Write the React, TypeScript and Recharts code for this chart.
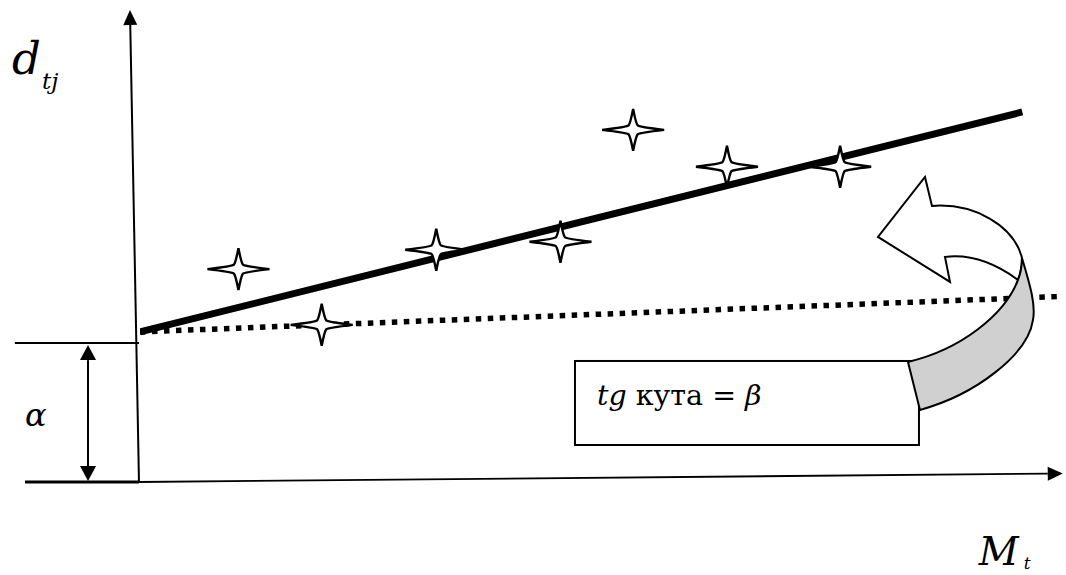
import React from 'react';
import {
  ComposedChart,
  XAxis,
  YAxis,
  Line,
  Scatter,
  ReferenceLine,
  ReferenceArea,
  ReferenceDot,
} from 'recharts';

const CHART_W = 1066;
const CHART_H = 575;
const FONT = "'DejaVu Serif', serif";

// Observed points (M_t, d_tj)
const obsM = [10.7, 19.75, 32.2, 45.7, 53.6, 63.8, 76.1];
const obsD = [45.1, 33.3, 49.2, 50.9, 74.6, 66.8, 66.8];

// Fitted regression line (two ends)
const fitM = [0, 95.9];
const fitD = [31.8, 78.4];

// Line from the intercept α with slope β (dotted)
const betaM = [0, 100];
const betaD = [31.8, 39.3];

// Intercept level α and the axis ends
const alphaLevel = 29.45;
const yAxisEnds = [
  { x: -0.11, y: 0 },
  { x: -1.09, y: 100 },
];
const xAxisEnds = [
  { x: -0.11, y: 0 },
  { x: 100.3, y: 1.8 },
];

const observations = obsM.map((x, i) => ({ x, y: obsD[i] }));
const fitData = fitM.map((x, i) => ({ x, y: fitD[i] }));
const betaData = betaM.map((x, i) => ({ x, y: betaD[i] }));

const textStyle = (size: number, italic: boolean) => ({
  fontFamily: FONT,
  fontSize: size,
  fontStyle: italic ? 'italic' : 'normal',
});

function headPoints(x1: number, y1: number, x2: number, y2: number, len: number, half: number) {
  const dx = x2 - x1;
  const dy = y2 - y1;
  const l = Math.hypot(dx, dy) || 1;
  const ux = dx / l;
  const uy = dy / l;
  const bx = x2 - ux * len;
  const by = y2 - uy * len;
  return {
    pts: `${x2},${y2} ${bx - uy * half},${by + ux * half} ${bx + uy * half},${by - ux * half}`,
    bx,
    by,
  };
}

// Four-pointed star marker with thin, slightly concave arms
const StarMark = (p: any) => {
  const { cx, cy } = p;
  if (cx == null || cy == null) return <g />;
  const a = 31;
  const b = 21;
  const c = 4.5;
  const k = 1.6;
  const d = [
    `M${cx + a},${cy}`,
    `Q${cx + c + k},${cy - c + k} ${cx + c},${cy - c}`,
    `Q${cx + c - k},${cy - c - k} ${cx},${cy - b}`,
    `Q${cx - c + k},${cy - c - k} ${cx - c},${cy - c}`,
    `Q${cx - c - k},${cy - c + k} ${cx - a},${cy}`,
    `Q${cx - c - k},${cy + c - k} ${cx - c},${cy + c}`,
    `Q${cx - c + k},${cy + c + k} ${cx},${cy + b}`,
    `Q${cx + c - k},${cy + c + k} ${cx + c},${cy + c}`,
    `Q${cx + c + k},${cy + c - k} ${cx + a},${cy}`,
    'Z',
  ].join(' ');
  return <path d={d} fill="#ffffff" stroke="#000000" strokeWidth={2.4} strokeLinejoin="miter" />;
};

const YAxisShape = (p: any) => {
  const { x1, y1, x2, y2 } = p;
  const h = headPoints(x1, y1, x2, y2, 15, 7);
  return (
    <g>
      <line x1={x1} y1={y1} x2={h.bx} y2={h.by} stroke="#000" strokeWidth={2} />
      <polygon points={h.pts} fill="#000" />
      <text x={x2 - 118} y={y2 + 64} style={textStyle(45, true)} fill="#000">
        d
      </text>
      <text x={x2 - 88} y={y2 + 79} style={textStyle(23, true)} fill="#000">
        tj
      </text>
    </g>
  );
};

const XAxisShape = (p: any) => {
  const { x1, y1, x2, y2 } = p;
  const h = headPoints(x1, y1, x2, y2, 15, 7);
  return (
    <g>
      <line x1={x1} y1={y1} x2={h.bx} y2={h.by} stroke="#000" strokeWidth={1.8} />
      <polygon points={h.pts} fill="#000" />
      <text x={x2 - 84} y={y2 + 91} style={textStyle(39, true)} fill="#000">
        M
      </text>
      <text x={x2 - 39} y={y2 + 95} style={textStyle(17, true)} fill="#000">
        t
      </text>
    </g>
  );
};

const PlainSegment = (w: number) => (p: any) => {
  const { x1, y1, x2, y2 } = p;
  return <line x1={x1} y1={y1} x2={x2} y2={y2} stroke="#000" strokeWidth={w} />;
};

const AlphaSpan = (p: any) => {
  const { x1, y1, x2, y2 } = p;
  const top = headPoints(x1, y1, x2, y2, 15, 8);
  const bottom = headPoints(x2, y2, x1, y1, 15, 8);
  return (
    <g>
      <line x1={bottom.bx} y1={bottom.by} x2={top.bx} y2={top.by} stroke="#000" strokeWidth={2} />
      <polygon points={top.pts} fill="#000" />
      <polygon points={bottom.pts} fill="#000" />
      <text x={x1 - 63} y={y1 - 55} style={textStyle(32, true)} fill="#000">
        α
      </text>
    </g>
  );
};

const SlopeBox = (p: any) => {
  const { x, y, width, height } = p;
  return (
    <g>
      <rect x={x} y={y} width={width} height={height} fill="#ffffff" stroke="#000" strokeWidth={2} />
      <text x={x + 22} y={y + 44} style={textStyle(28.5, false)} fill="#000">
        <tspan style={{ fontStyle: 'italic' }}>tg</tspan> кута = <tspan style={{ fontStyle: 'italic' }}>β</tspan>
      </text>
    </g>
  );
};

// Curved ribbon arrow pointing back to the fitted line
const TurnArrow = (p: any) => {
  const { cx, cy } = p;
  if (cx == null || cy == null) return <g />;
  const white =
    'M -88,-50 C -45,-53 -6,-30 2,2 Q 2,14 -2,24 C -25,7 -50,-2 -75,1 L -70,26 L -142,-19 L -95,-79 Z';
  const grey =
    'M 2,2 C 10,29 16,49 13,64 C 8,99 -45,139 -100,154 L -112,106 C -60,94 -15,59 -2,24 Q 2,14 2,2 Z';
  return (
    <g transform={`translate(${cx},${cy})`}>
      <path d={white} fill="#ffffff" stroke="#000" strokeWidth={2} strokeLinejoin="miter" />
      <path d={grey} fill="#d0d0d0" stroke="#000" strokeWidth={2} strokeLinejoin="miter" />
    </g>
  );
};

export default function App() {
  return (
    <div style={{ position: 'absolute', left: 0, top: 0, background: '#ffffff' }}>
      <ComposedChart
        width={CHART_W}
        height={CHART_H}
        margin={{ top: 10, right: 6, bottom: 93, left: 140 }}
      >
        <XAxis type="number" dataKey="x" domain={[0, 100]} hide allowDataOverflow />
        <YAxis type="number" dataKey="y" domain={[0, 100]} hide allowDataOverflow />

        <ReferenceLine segment={yAxisEnds} ifOverflow="visible" shape={YAxisShape} />
        <ReferenceLine segment={xAxisEnds} ifOverflow="visible" shape={XAxisShape} />
        <ReferenceLine
          segment={[
            { x: -13.6, y: alphaLevel },
            { x: -0.11, y: alphaLevel },
          ]}
          ifOverflow="visible"
          shape={PlainSegment(2)}
        />
        <ReferenceLine
          segment={[
            { x: -12.5, y: 0 },
            { x: -0.11, y: 0 },
          ]}
          ifOverflow="visible"
          shape={PlainSegment(3)}
        />
        <ReferenceLine
          segment={[
            { x: -5.65, y: 0.2 },
            { x: -5.65, y: 29.0 },
          ]}
          ifOverflow="visible"
          shape={AlphaSpan}
        />

        <Scatter data={observations} shape={StarMark} isAnimationActive={false} />

        <Line
          data={betaData}
          dataKey="y"
          stroke="#000"
          strokeWidth={5.5}
          strokeDasharray="5.5 6.5"
          dot={false}
          activeDot={false}
          isAnimationActive={false}
        />
        <Line
          data={fitData}
          dataKey="y"
          stroke="#000"
          strokeWidth={7}
          strokeLinecap="butt"
          dot={false}
          activeDot={false}
          isAnimationActive={false}
        />

        <ReferenceArea
          x1={47.28}
          x2={84.67}
          y1={7.84}
          y2={25.64}
          ifOverflow="visible"
          shape={SlopeBox}
        />
        <ReferenceDot x={95.65} y={47.9} r={1} ifOverflow="visible" shape={TurnArrow} />
      </ComposedChart>
    </div>
  );
}
